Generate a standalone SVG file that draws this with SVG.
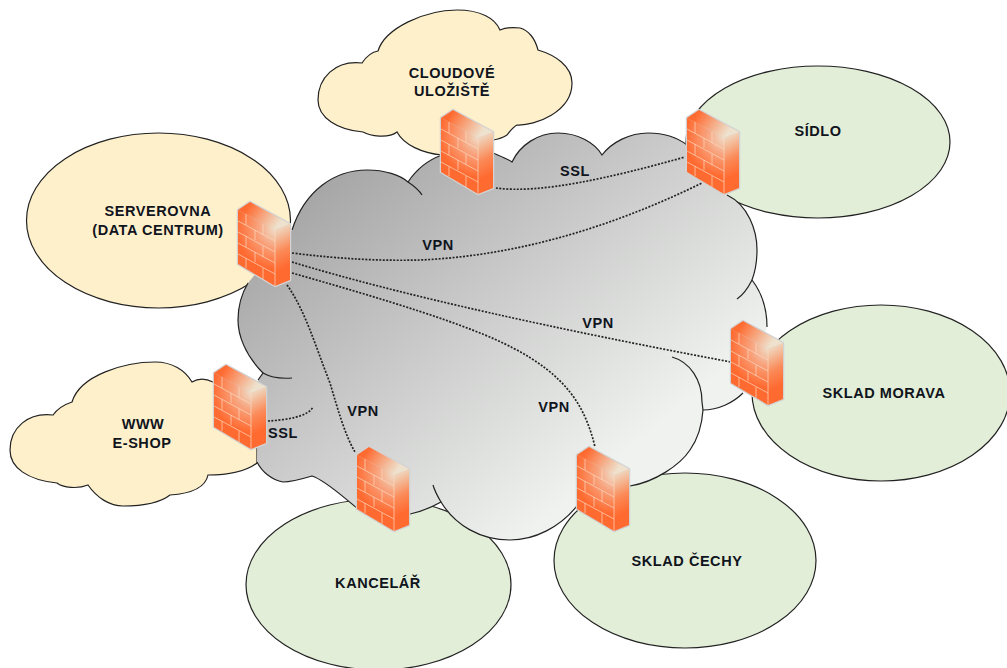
<svg xmlns="http://www.w3.org/2000/svg" width="1007" height="668" viewBox="0 0 1007 668">
<style>
.y{fill:#fff0cc;stroke:#222;stroke-width:1.2}
.g{fill:#e2eed8;stroke:#222;stroke-width:1.2}
.arc{fill:none;stroke:#222;stroke-width:1.2}
.c{fill:none;stroke:#222;stroke-width:1.7;stroke-dasharray:2 1.5}
text{font-family:"Liberation Sans",Arial,sans-serif;font-size:14.5px;font-weight:bold;fill:#10141c;text-anchor:middle;letter-spacing:.55px}
.m{fill:none;stroke:#fcd8c0;stroke-width:.7}
</style>
<defs>
<linearGradient id="cg" gradientUnits="userSpaceOnUse" x1="329" y1="175" x2="586" y2="486"><stop offset="0" stop-color="#a6a6a6"/><stop offset="1" stop-color="#f0f2f0"/></linearGradient>
<radialGradient id="ff" gradientUnits="userSpaceOnUse" cx="38" cy="27" r="40"><stop offset="0" stop-color="#eee0cc"/><stop offset=".45" stop-color="#f8a27c"/><stop offset="1" stop-color="#ff6a30"/></radialGradient>
<linearGradient id="ft" gradientUnits="userSpaceOnUse" x1="10" y1="4" x2="40" y2="24"><stop offset="0" stop-color="#ff6a30"/><stop offset="1" stop-color="#eee2ce"/></linearGradient>
<linearGradient id="fs" gradientUnits="userSpaceOnUse" x1="37" y1="30" x2="54" y2="62"><stop offset="0" stop-color="#f0d2b8"/><stop offset=".55" stop-color="#fb8a58"/><stop offset="1" stop-color="#ff6a30"/></linearGradient>
<symbol id="fw" width="56" height="90" viewBox="0 0 56 90" overflow="visible">
<path d="M0,8 12,0 52,22 52,78 37,84 0,62Z" fill="#d2d2d2" stroke="#d2d2d2" stroke-width="2.500" stroke-linejoin="round"/>
<path d="M0,8 37,28 37,84 0,62Z" fill="url(#ff)"/>
<path d="M0,8 12,0 52,22 37,28Z" fill="url(#ft)"/>
<path d="M37,28 52,22 52,78 37,84Z" fill="url(#fs)"/>
<path class="m" d="M37,28V84M0,19 37,39M0,30 37,50M0,41 37,61M0,52 37,72M8,12V23M25,22V33M8,34V45M25,44V55M8,56V66M25,66V77M17,28V38M17,50V60"/>
</symbol>
</defs>
<rect width="1007" height="668" fill="#fff"/>
<g id="node-serverovna"><ellipse class="y" cx="158.500" cy="220.500" rx="132" ry="87.500"/></g>
<g id="node-sidlo"><ellipse class="g" cx="818" cy="142" rx="132" ry="76"/></g>
<g id="node-sklad-morava"><ellipse class="g" cx="881" cy="393" rx="129" ry="88"/></g>
<g id="node-sklad-cechy"><ellipse class="g" cx="685" cy="560.500" rx="131" ry="87.500"/></g>
<g id="node-kancelar"><ellipse class="g" cx="378.500" cy="584.500" rx="132.500" ry="85.500"/></g>
<g id="node-cloudove"><path class="y" d="M397,132 C404,145 422,153 442,155 L493,140 C500,139 504,137 507,135 C510,131 513,127 517,125 C535,126 572,112 572,83 C572,66 555,55 538,50 C535,38 528,30 520,28 C512,27 505,28 500,30 C495,18 480,10 457,10 C425,10 385,28 378,51 C372,52 366,57 362,63 C335,60 318,78 318,100 C318,118 338,130 363,132 C370,136 388,139 397,132Z"/></g>
<g id="node-eshop"><path class="y" d="M213,382 C205,378 197,379 192,382 C185,370 172,362 155,362 C125,362 80,375 72,402 C66,404 58,408 53,415 C28,412 10,428 10,450 C10,468 28,480 57,483 C63,488 78,489 88,485 C97,498 110,506 123,506 C145,506 160,503 170,495 C185,494 205,490 208,475 C225,475 245,472 257,463 L257,400Z"/></g>
<g id="cloud-network">
<path d="M292,230 C305,190 335,170 367,170 C385,170 400,175 408,182 C416,170 428,160 442,155 L493,153 C500,156 506,158 512,162 C520,145 538,133 558,133 C578,133 595,143 602,155 C612,142 630,133 648,133 C665,133 678,138 687,145 L727,195 C748,205 757,230 757,250 C757,262 755,272 752,280 C762,293 767,310 767,327 L743,393 C733,403 718,410 703,410 C702,425 697,440 690,450 C680,465 655,482 630,486 L577,506 C560,527 535,540 510,540 C480,540 455,525 441,502 C432,507 420,512 410,514 L357,508 C343,497 325,480 312,476 C302,479 292,482 283,482 C272,480 262,472 257,462 L258,380 L263,373 C245,355 238,335 238,320 C238,305 242,293 248,283Z" fill="url(#cg)"/>
<path class="arc" d="M292,230 C305,190 335,170 367,170 C385,170 400,175 408,182 C416,170 428,160 442,155M493,153 C500,156 506,158 512,162 C520,145 538,133 558,133 C578,133 595,143 602,155 C612,142 630,133 648,133 C665,133 678,138 687,145M727,195 C748,205 757,230 757,250 C757,262 755,272 752,280 C762,293 767,310 767,327M743,393 C733,403 718,410 703,410 C702,425 697,440 690,450 C680,465 655,482 630,486M577,506 C560,527 535,540 510,540 C480,540 455,525 441,502 C432,507 420,512 410,514M357,508 C343,497 325,480 312,476 C302,479 292,482 283,482 C272,480 262,472 257,462M258,380 L263,373 C245,355 238,335 238,320 C238,305 242,293 248,283"/>
<path class="arc" d="M408,182 C414,186 419,190 422,195M752,280 C748,288 743,295 737,299M672,357 C690,362 702,380 702,402 L703,410M433,485 C435,492 438,497 441,502M263,373 C270,377 280,379 292,378"/>
</g>
<g id="connectors">
<path class="c" d="M292,253 C340,259 380,261 420,260 C515,256 610,228 702,183"/>
<path class="c" d="M292,262 C400,295 560,330 731,362"/>
<path class="c" d="M292,273 C380,298 470,325 513,348 C565,375 585,405 595,447"/>
<path class="c" d="M287,285 C305,310 315,345 330,383 C338,410 345,435 355,452"/>
<path class="c" d="M268,421 C285,420 308,417 313,407"/>
<path class="c" d="M496,188 C540,194 610,178 685,157"/>
</g>
<g id="fw-cloudove"><use href="#fw" x="441" y="110"/></g>
<g id="fw-sidlo"><use href="#fw" x="687" y="110"/></g>
<g id="fw-serverovna"><use href="#fw" x="238" y="202"/></g>
<g id="fw-morava"><use href="#fw" x="731" y="321"/></g>
<g id="fw-eshop"><use href="#fw" x="214" y="365"/></g>
<g id="fw-kancelar"><use href="#fw" x="357" y="447"/></g>
<g id="fw-cechy"><use href="#fw" x="577" y="447"/></g>
<g id="labels">
<text x="158" y="216">SERVEROVNA</text>
<text x="158" y="235">(DATA CENTRUM)</text>
<text x="452" y="78">CLOUDOVÉ</text>
<text x="452" y="96">ULOŽIŠTĚ</text>
<text x="818" y="136">SÍDLO</text>
<text x="884" y="398">SKLAD MORAVA</text>
<text x="687" y="566">SKLAD ČECHY</text>
<text x="378" y="588">KANCELÁŘ</text>
<text x="143" y="429">WWW</text>
<text x="142" y="448">E-SHOP</text>
<text x="438" y="250">VPN</text>
<text x="598" y="328">VPN</text>
<text x="554" y="412">VPN</text>
<text x="363" y="416">VPN</text>
<text x="575" y="176">SSL</text>
<text x="283" y="438">SSL</text>
</g>
</svg>
